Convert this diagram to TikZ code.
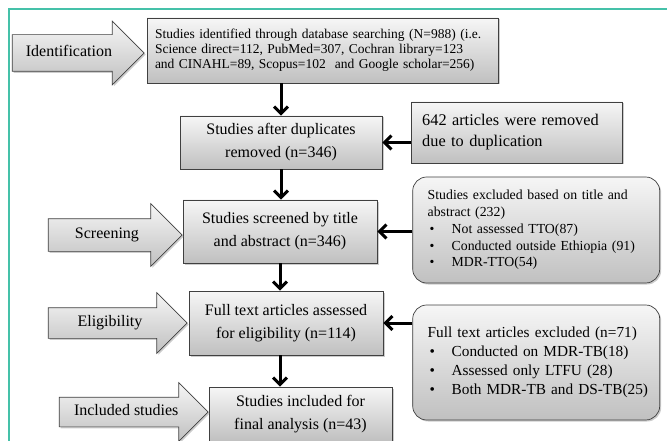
\documentclass[tikz,border=0pt]{standalone}
\usepackage{fontspec}
\setmainfont{Liberation Serif}
\usetikzlibrary{arrows.meta,positioning,shapes.arrows,shadows}
\definecolor{frameline}{HTML}{45C1A9}
\definecolor{shadetop}{HTML}{F6F6F6}
\definecolor{shadebot}{HTML}{C0C0C0}
\newcommand{\bulline}[1]{\mbox{\hspace*{2pt}\makebox[22pt][l]{\textbullet}#1}}

\begin{document}
\begin{tikzpicture}[
  x=1pt, y=-1pt,
  shaded/.style={draw=black!75, line width=0.7pt, top color=shadetop, bottom color=shadebot,
    drop shadow={shadow xshift=1.5pt, shadow yshift=-1.5pt, opacity=0.4}},
  box/.style={shaded, align=center, inner sep=0pt, font=\fontsize{16}{23}\selectfont},
  notebox/.style={shaded, rounded corners=14pt, align=left, inner xsep=15pt, inner ysep=0pt, text width=217pt, minimum width=247pt},
  stage/.style={shaded, single arrow, single arrow head extend=15pt, text height=11pt, text depth=4pt,
    inner ysep=8.5pt, inner xsep=4pt, font=\fontsize{16}{18}\selectfont},
  flow/.style={-{Straight Barb[length=7pt,width=14pt]}, line width=3pt}
]
\useasboundingbox (0,0) rectangle (667,441);
\draw[frameline, line width=2pt] (9,441) -- (9,9) -- (667,9);

% main column
\node[box, minimum width=351pt, minimum height=65pt, align=left, text width=335pt,
  font=\fontsize{13.5}{15}\selectfont] (found) at (322.5,50.5)
  {Studies identified through database searching (N=988) (i.e.\\Science direct=112, PubMed=307, Cochran library=123\\and CINAHL=89, Scopus=102 \ and Google scholar=256)};
\node[box, minimum width=202pt, minimum height=53pt] (dedup) at (281,142.5) {Studies after duplicates\\removed (n=346)};
\node[box, minimum width=194pt, minimum height=63pt] (screened) at (280,231.5) {Studies screened by title\\and abstract (n=346)};
\node[box, minimum width=194pt, minimum height=64pt] (assessed) at (286,323) {Full text articles assessed\\for eligibility (n=114)};
\node[box, minimum width=183pt, minimum height=54pt] (included) at (300.5,414) {Studies included for\\final analysis (n=43)};

% stages
\node[stage, minimum height=132pt, inner ysep=10.5pt, single arrow head extend=13.5pt,
  left=2pt of found, anchor=tip, yshift=-2.5pt] (identify) {Identification};
\node[stage, minimum height=134pt, left=0pt of screened, anchor=tip, yshift=-3.5pt] (screenstage) {Screening};
\node[stage, minimum height=139pt, inner ysep=7.5pt, left=1pt of assessed, anchor=tip] (eligible) {Eligibility};
\node[stage, minimum height=149pt, inner ysep=7pt, single arrow head extend=14.5pt,
  left=0pt of included, anchor=tip, yshift=2pt] (inclstage) {Included studies};

% exclusions
\node[box, align=left, text width=190pt, inner xsep=10.5pt, minimum width=211pt, minimum height=61pt,
  font=\fontsize{16.3}{21}\selectfont, right=29pt of dedup, yshift=10pt] (removed)
  {642 articles were removed\\due to duplication};
\node[notebox, minimum height=106pt, font=\fontsize{13.8}{16.7}\selectfont,
  right=35pt of screened, yshift=1.5pt] (titleout)
  {Studies excluded based on title and\\abstract (232)\\\bulline{Not assessed TTO(87)}\\\bulline{Conducted outside Ethiopia (91)}\\\bulline{MDR-TTO(54)}};
\node[notebox, minimum height=115pt, font=\fontsize{15.3}{19}\selectfont,
  right=29pt of assessed, yshift=-39.5pt] (fullout)
  {Full text articles excluded (n=71)\\\bulline{Conducted on MDR-TB(18)}\\\bulline{Assessed only LTFU (28)}\\\bulline{Both MDR-TB and DS-TB(25)}};

\draw[flow] (dedup.north |- found.south) -- (dedup.north);
\draw[flow] (dedup.south) -- (dedup.south |- screened.north);
\draw[flow] (screened.south) -- (screened.south |- assessed.north);
\draw[flow] (screened.south |- assessed.south) -- (screened.south |- included.north);
\draw[flow] (removed.west |- dedup.east) -- (dedup.east);
\draw[flow] (titleout.west |- screened.east) -- (screened.east);
\draw[flow] (fullout.west |- assessed.east) -- (assessed.east);

\end{tikzpicture}
\end{document}
